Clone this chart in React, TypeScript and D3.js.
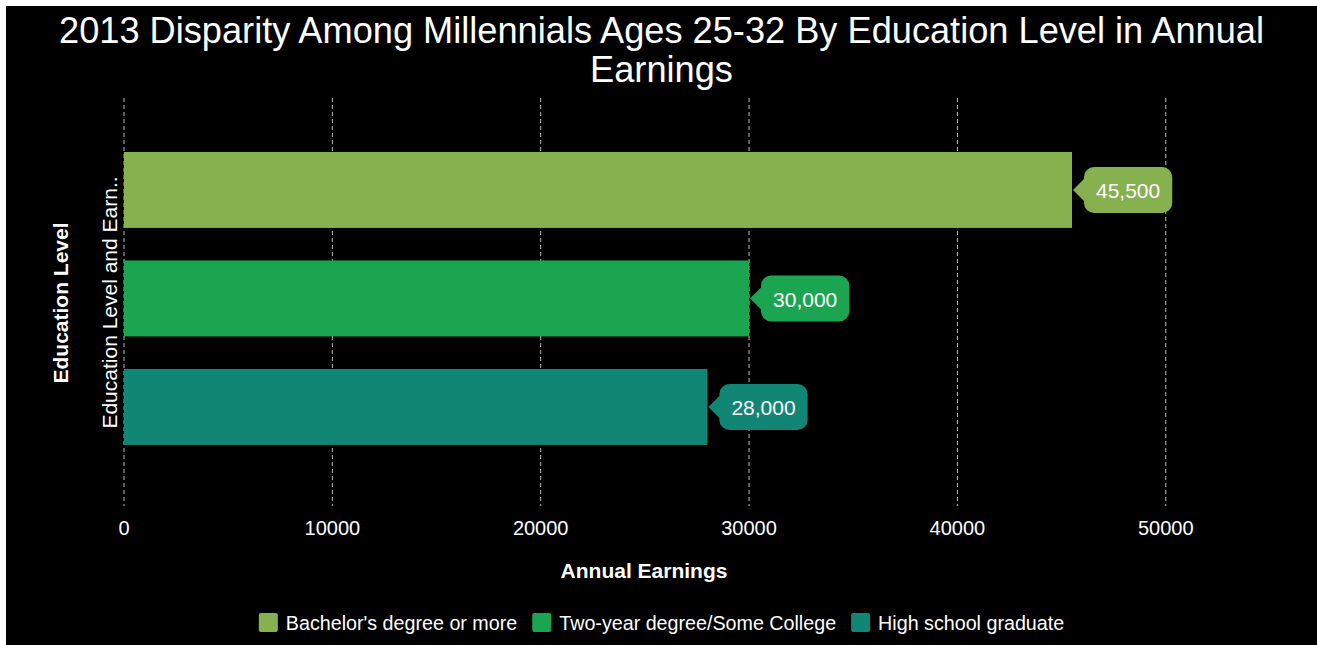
import React, { useEffect, useRef } from "react";
import * as d3 from "d3";

const titleLines = ["2013 Disparity Among Millennials Ages 25-32 By Education Level in Annual", "Earnings"];
const categories = ["Education Level and Earn.."];
const seriesNames = ["Bachelor's degree or more", "Two-year degree/Some College", "High school graduate"];
const seriesValues = [45500, 30000, 28000];
const seriesColors = ["#87b04f", "#1ba550", "#128674"];
const xTicks = [0, 10000, 20000, 30000, 40000, 50000];
const xTitle = "Annual Earnings";
const yTitle = "Education Level";

const W = 1317;
const H = 645;
const FONT = "'Liberation Sans', Arial, Helvetica, sans-serif";

export default function App() {
  const ref = useRef<SVGSVGElement | null>(null);

  useEffect(() => {
    const svg = d3.select(ref.current);
    svg.selectAll("*").remove();

    svg.append("rect").attr("x", 0).attr("y", 0).attr("width", W).attr("height", H).attr("fill", "#ffffff");
    svg.append("rect").attr("x", 6).attr("y", 6).attr("width", W - 6).attr("height", H - 6).attr("fill", "#000000");

    const x = d3.scaleLinear().domain([0, 55000]).range([124, 124 + 55000 * 0.020835]);
    const y0 = d3.scaleBand<string>().domain(categories).range([98, 505]);
    const y1 = d3
      .scaleBand<string>()
      .domain(seriesNames)
      .range([135.7, 461.2])
      .paddingInner(0.3)
      .paddingOuter(0.15);

    // Title
    const title = svg
      .append("text")
      .attr("font-family", FONT)
      .attr("font-size", 36.2)
      .attr("fill", "#ffffff")
      .attr("text-anchor", "middle");
    titleLines.forEach((l, i) => {
      title.append("tspan").attr("x", 661.5).attr("y", 43 + i * 39).text(l);
    });

    // Grid
    svg
      .append("g")
      .selectAll("line")
      .data(xTicks)
      .join("line")
      .attr("x1", (d) => x(d))
      .attr("x2", (d) => x(d))
      .attr("y1", 98)
      .attr("y2", 506)
      .attr("stroke", "#bbbbbb")
      .attr("stroke-width", 1)
      .attr("stroke-dasharray", "4,3");

    // Tick labels
    svg
      .append("g")
      .selectAll("text")
      .data(xTicks)
      .join("text")
      .attr("x", (d) => x(d))
      .attr("y", 535)
      .attr("text-anchor", "middle")
      .attr("font-family", FONT)
      .attr("font-size", 20)
      .attr("fill", "#ffffff")
      .text((d) => String(d));

    // Bars
    const gBars = svg.append("g");
    const cat = categories[0];
    seriesNames.forEach((s, i) => {
      const v = seriesValues[i];
      const by = y1(s)!;
      const bh = y1.bandwidth();
      gBars
        .append("rect")
        .attr("x", x(0))
        .attr("y", by)
        .attr("width", x(v) - x(0))
        .attr("height", bh)
        .attr("fill", seriesColors[i]);

      // label callout
      const cy = by + bh / 2;
      const label = d3.format(",")(v);
      const pathEl = gBars.append("path").attr("fill", seriesColors[i]);
      const tx = gBars
        .append("text")
        .attr("font-family", FONT)
        .attr("font-size", 21)
        .attr("fill", "#ffffff")
        .attr("text-anchor", "middle")
        .attr("dominant-baseline", "central")
        .text(label);
      const tw = (tx.node() as SVGTextElement).getComputedTextLength();
      const tip = x(v) + 1;
      const bx = tip + 11;
      const bw = tw + 24;
      const bhh = 46;
      const r = 10;
      const top = cy - bhh / 2;
      const bot = cy + bhh / 2;
      const path = d3.path();
      path.moveTo(tip, cy);
      path.lineTo(bx, cy - 11);
      path.lineTo(bx, top + r);
      path.arcTo(bx, top, bx + r, top, r);
      path.lineTo(bx + bw - r, top);
      path.arcTo(bx + bw, top, bx + bw, top + r, r);
      path.lineTo(bx + bw, bot - r);
      path.arcTo(bx + bw, bot, bx + bw - r, bot, r);
      path.lineTo(bx + r, bot);
      path.arcTo(bx, bot, bx, bot - r, r);
      path.lineTo(bx, cy + 11);
      path.closePath();
      pathEl.attr("d", path.toString());
      tx.attr("x", bx + bw / 2).attr("y", cy + 1);
    });

    // Category label
    svg
      .append("text")
      .attr("transform", `translate(117,${y0(cat)! + y0.bandwidth() / 2 + 1}) rotate(-90)`)
      .attr("text-anchor", "middle")
      .attr("font-family", FONT)
      .attr("font-size", 21)
      .attr("fill", "#ffffff")
      .text(cat);

    // Axis titles
    svg
      .append("text")
      .attr("x", 644)
      .attr("y", 578)
      .attr("text-anchor", "middle")
      .attr("font-family", FONT)
      .attr("font-size", 21)
      .attr("font-weight", "bold")
      .attr("fill", "#ffffff")
      .text(xTitle);
    svg
      .append("text")
      .attr("transform", `translate(68,303) rotate(-90)`)
      .attr("text-anchor", "middle")
      .attr("font-family", FONT)
      .attr("font-size", 21)
      .attr("font-weight", "bold")
      .attr("fill", "#ffffff")
      .text(yTitle);

    // Legend
    const lg = svg.append("g");
    const items: { w: number; g: any }[] = [];
    seriesNames.forEach((s, i) => {
      const g = lg.append("g");
      g.append("rect").attr("x", 0).attr("y", -10).attr("width", 19).attr("height", 19).attr("rx", 2).attr("fill", seriesColors[i]);
      const t = g
        .append("text")
        .attr("x", 27)
        .attr("y", 7)
        .attr("font-family", FONT)
        .attr("font-size", 19.7)
        .attr("fill", "#ffffff")
        .text(s);
      const tw = (t.node() as SVGTextElement).getComputedTextLength();
      items.push({ w: 27 + tw, g });
    });
    const gap = 15;
    const total = items.reduce((a, b) => a + b.w, 0) + gap * (items.length - 1);
    let cx = 661.5 - total / 2;
    items.forEach((it) => {
      it.g.attr("transform", `translate(${cx},623)`);
      cx += it.w + gap;
    });
  }, []);

  return (
    <svg
      ref={ref}
      width={W}
      height={H}
      style={{ position: "absolute", left: 0, top: 0, display: "block" }}
    />
  );
}
